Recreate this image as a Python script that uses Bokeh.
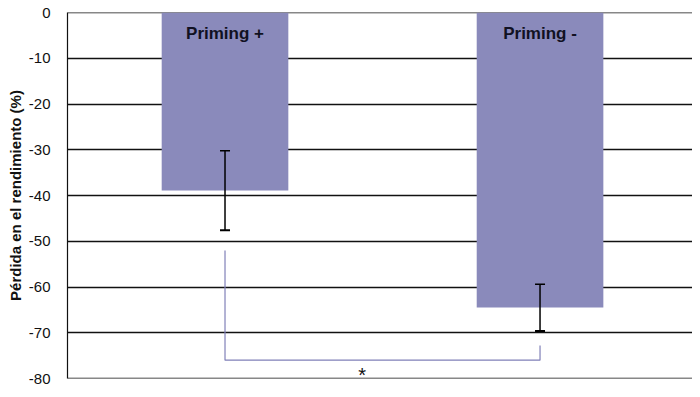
from bokeh.plotting import figure
from bokeh.models import Range1d, FixedTicker, ColumnDataSource, Whisker, TeeHead, Span
from bokeh.core.properties import value
from bokeh.embed import file_html
from bokeh.resources import INLINE

# Data
categories = ["Priming +", "Priming -"]
cat_pos = [0.5, 1.5]
losses = [-38.9, -64.5]
errors = [8.7, 5.1]
y_ticks = [0, -10, -20, -30, -40, -50, -60, -70, -80]
y_tick_labels = ["0", "-10", "-20", "-30", "-40", "-50", "-60", "-70", "-80"]
bracket_y = -76.0
bracket_left_top = -52.0
bracket_right_top = -72.8
sig_label = "*"
sig_x = 0.935
sig_y = -79.2

FONT = "Liberation Sans"
BAR = "#8A8ABB"

p = figure(width=692, height=389, output_backend="svg", toolbar_location=None,
           x_range=Range1d(0, 1.984), y_range=Range1d(-80, 0),
           min_border_left=67, min_border_right=0, min_border_top=12, min_border_bottom=11)

p.outline_line_color = None
p.xaxis.visible = False
p.xgrid.visible = False
p.yaxis.ticker = FixedTicker(ticks=y_ticks)
p.yaxis.major_label_overrides = {t: s for t, s in zip(y_ticks, y_tick_labels)}
p.ygrid.ticker = FixedTicker(ticks=y_ticks)
p.ygrid.grid_line_color = "#111111"
p.ygrid.grid_line_width = 1.4
p.yaxis.axis_line_color = "#111111"
p.yaxis.axis_line_width = 1.2
p.yaxis.major_tick_line_color = None
p.yaxis.minor_tick_line_color = None
p.yaxis.major_label_text_font = FONT
p.yaxis.major_label_text_font_size = "15px"
p.yaxis.major_label_text_color = "#111111"
p.yaxis.major_label_standoff = 11
p.yaxis.axis_label = "Pérdida en el rendimiento (%)"
p.yaxis.axis_label_text_font = FONT
p.yaxis.axis_label_text_font_size = "15px"
p.yaxis.axis_label_text_font_style = "bold"
p.yaxis.axis_label_text_color = "#111111"
p.yaxis.axis_label_standoff = 2

# boundary lines at 0 and -80
for yv in (y_ticks[0], y_ticks[-1]):
    p.add_layout(Span(location=yv, dimension="width", line_color="#111111",
                      line_width=1.4, level="underlay"))

src = ColumnDataSource(dict(
    x=cat_pos, top=[0, 0], bottom=losses, name=categories,
    upper=[l + e for l, e in zip(losses, errors)],
    lower=[l - e for l, e in zip(losses, errors)],
    label_y=[-4.6, -4.6],
))

p.vbar(x="x", top="top", bottom="bottom", width=0.402, source=src,
       fill_color=BAR, line_color=None)

w = Whisker(base="x", upper="upper", lower="lower", source=src,
            line_color="#000000", line_width=1.5, level="overlay",
            upper_head=TeeHead(size=10, line_color="#000000", line_width=1.5),
            lower_head=TeeHead(size=10, line_color="#000000", line_width=2))
p.add_layout(w)

p.text(x="x", y="label_y", text="name", source=src,
       text_font=value(FONT), text_font_size="17px", text_font_style="bold",
       text_color="#111122", text_align="center", text_baseline="middle")

# significance bracket
p.line(x=[cat_pos[0], cat_pos[0], cat_pos[1], cat_pos[1]],
       y=[bracket_left_top, bracket_y, bracket_y, bracket_right_top],
       line_color="#8080B8", line_width=1.2)

p.text(x=[sig_x], y=[sig_y], text=[sig_label],
       text_font=value(FONT), text_font_size="20px",
       text_color="#111111", text_align="center", text_baseline="middle")

open("out.html", "w").write(file_html(p, INLINE))
